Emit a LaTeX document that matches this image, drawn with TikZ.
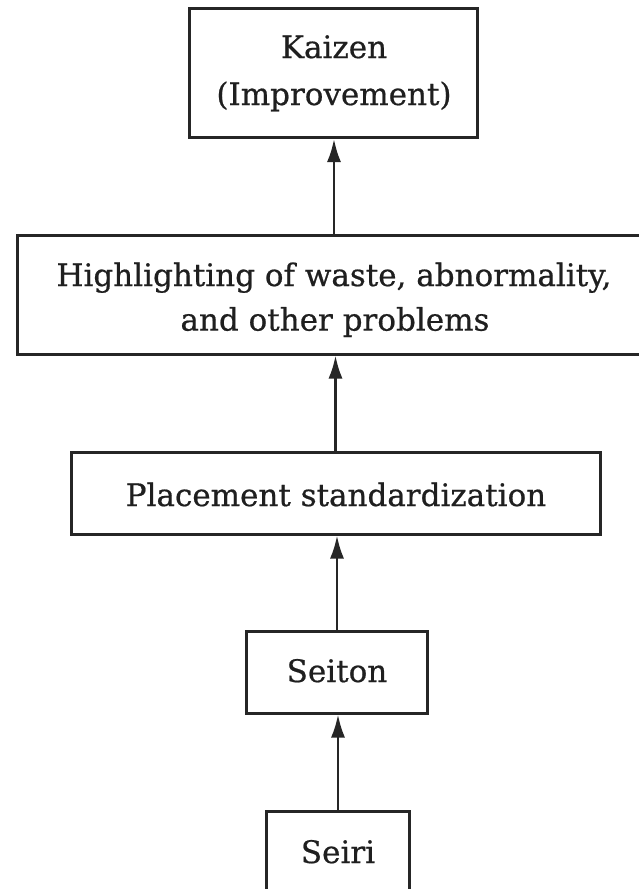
\documentclass[tikz,border=0pt]{standalone}
\usepackage{fontspec}
\setmainfont[FakeBold=0.6]{DejaVu Serif}
\usetikzlibrary{arrows.meta}
\begin{document}
\begin{tikzpicture}[x=1pt,y=-1pt,
  box/.style={draw=black!85,line width=3pt,inner sep=0pt,rectangle},
  txt/.style={font=\fontsize{31}{44}\selectfont\addfontfeature{FakeBold=0.6},inner sep=0pt,anchor=base,text=black!88},
  arr/.style={line width=2.6pt,draw=black!85,-{Latex[length=23pt,width=14pt]}}]
\useasboundingbox (0,0) rectangle (639,889);
\fill[white] (0,0) rectangle (639,889);
% boxes
\node[box,minimum width=288pt,minimum height=129pt] (kaizen) at (333.5,73) {};
\node[box,minimum width=634pt,minimum height=119pt] (high) at (334,294.5) {};
\node[box,minimum width=529pt,minimum height=82pt] (place) at (335.5,493) {};
\node[box,minimum width=181.5pt,minimum height=82pt] (seiton) at (337,672) {};
\node[box,minimum width=143.5pt,minimum height=100pt] (seiri) at (338,861) {};
% texts
\node[txt] (t1) at (334,58) {Kaizen};
\node[txt] (t2) at (334,105) {(Improvement)};
\node[txt] (t3) at (334,286) {Highlighting of waste, abnormality,};
\node[txt] (t4) at (335,330.6) {and other problems};
\node[txt] (t5) at (336,506) {Placement standardization};
\node[txt] (t6) at (337,682) {Seiton};
\node[txt] (t7) at (338,863) {Seiri};
% arrows
\draw[arr] (high.north) -- (high.north |- kaizen.south);
\draw[arr] (place.north) -- (place.north |- high.south);
\draw[arr] (seiton.north) -- (seiton.north |- place.south);
\draw[arr] (seiri.north) -- (seiri.north |- seiton.south);
\end{tikzpicture}
\end{document}
